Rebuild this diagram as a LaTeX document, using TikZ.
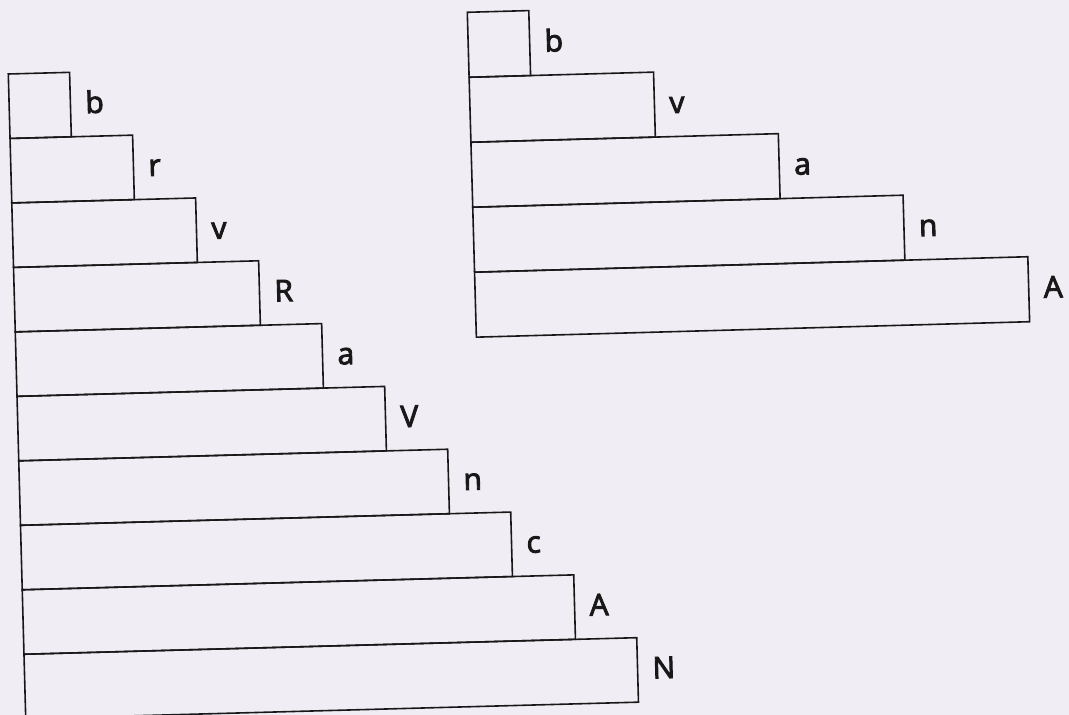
\documentclass[tikz,border=0pt]{standalone}
\usepackage{fontspec}
\newfontfamily\labfont{Open Sans}[FakeBold=3]
\definecolor{paper}{RGB}{240,238,244}
\definecolor{ink}{RGB}{24,24,24}
\begin{document}
\begin{tikzpicture}[x=1pt,y=-1pt,
  stepbox/.style={draw=ink, line width=1.6pt, inner sep=0pt, outer sep=0pt, anchor=north west},
  lab/.style={anchor=base west, inner sep=0pt, outer sep=0pt, text=ink,
    font=\labfont\fontsize{30}{36}\selectfont}]
\fill[paper] (0,0) rectangle (1069,715);
\useasboundingbox (0,0) rectangle (1069,715);
% left stack
\begin{scope}[shift={(8.3,74)}, rotate=1.55, transform shape]
\foreach \k/\t in {1/b,2/r,3/v,4/R,5/a,6/V,7/n,8/c,9/A,10/N} {
  \node[stepbox, minimum width=\k*61.3pt, minimum height=64.5pt] (L\k) at (0,{64.5*(\k-1)}) {};
  \node[lab] (Lt\k) at ({61.3*\k+15},{64.5*(\k-0.5)+9}) {\t};
}
\end{scope}
% right stack
\begin{scope}[shift={(467.3,12.3)}, rotate=1.6, transform shape]
\foreach \k/\t in {1/b,2/v,3/a,4/n,5/A} {
  \node[stepbox, minimum width=(2*\k-1)*61.5pt, minimum height=65pt] (R\k) at (0,{65*(\k-1)}) {};
  \node[lab] (Rt\k) at ({61.5*(2*\k-1)+15},{65*(\k-0.5)+9}) {\t};
}
\end{scope}
\end{tikzpicture}
\end{document}
